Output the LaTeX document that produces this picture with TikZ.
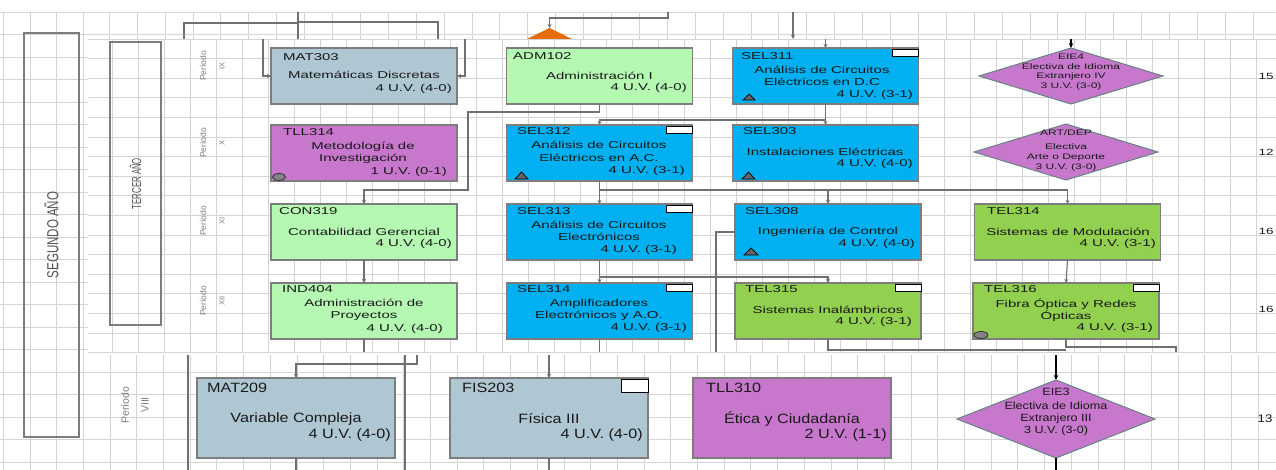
\documentclass[tikz,border=0pt]{standalone}
\usepackage{fontspec}
\setmainfont{Liberation Sans}
\newfontfamily\fa[FakeStretch=1.5]{Liberation Sans}
\newfontfamily\fb[FakeStretch=1.2]{Liberation Sans}
\newfontfamily\fc[FakeStretch=0.72]{Liberation Sans}
\newfontfamily\fd[FakeStretch=0.6]{Liberation Sans}
\usetikzlibrary{shapes.geometric,arrows.meta}
\definecolor{gridc}{RGB}{212,212,212}
\definecolor{bord}{RGB}{125,125,125}
\definecolor{txt}{RGB}{25,25,25}
\definecolor{lgrey}{RGB}{112,112,112}
\definecolor{corange}{RGB}{228,108,10}
\definecolor{diab}{RGB}{100,130,130}
\definecolor{mtri}{RGB}{100,100,100}
\definecolor{pert}{RGB}{125,125,125}
\definecolor{yeart}{RGB}{85,85,85}
\definecolor{cgrey}{RGB}{175,199,211}
\definecolor{cgreenl}{RGB}{180,248,178}
\definecolor{ccyan}{RGB}{0,176,240}
\definecolor{cpurple}{RGB}{199,120,204}
\definecolor{cgreen}{RGB}{146,208,80}
\begin{document}
\begin{tikzpicture}[x=1pt,y=-1pt,
  gridl/.style={draw=gridc, line width=0.9pt},
  cbox/.style={draw=bord, line width=1.3pt, inner sep=0pt, outer sep=0pt, minimum width=186pt, minimum height=56pt},
  bbox/.style={cbox, minimum width=198pt, minimum height=80pt},
  dia/.style={diamond, draw=diab, line width=1pt, fill=cpurple, inner sep=0pt, outer sep=0pt},
  code/.style={anchor=mid west, inner sep=0pt, text=txt, font=\fa\fontsize{10}{12}\selectfont},
  ttl/.style={align=center, inner sep=0pt, text=txt, font=\fa\fontsize{10}{12.5}\selectfont},
  cred/.style={anchor=mid east, inner sep=0pt, text=txt, font=\fa\fontsize{10}{12}\selectfont},
  codeb/.style={code, font=\fb\fontsize{13.5}{16}\selectfont},
  ttlb/.style={ttl, font=\fb\fontsize{13.5}{16}\selectfont},
  credb/.style={cred, font=\fb\fontsize{13.5}{16}\selectfont},
  dtxt/.style={align=center, inner sep=0pt, text=txt, font=\fa\fontsize{8}{9.4}\selectfont},
  dtxtb/.style={align=center, inner sep=0pt, text=txt, font=\fb\fontsize{10.5}{12}\selectfont},
  numt/.style={inner sep=0pt, text=txt, font=\fa\fontsize{9}{10}\selectfont},
  numtb/.style={inner sep=0pt, text=txt, font=\fb\fontsize{11}{12}\selectfont},
  pertxt/.style={inner sep=0pt, text=pert, rotate=90, font=\fontsize{8.5}{9}\selectfont},
  romtxt/.style={inner sep=0pt, text=pert, rotate=90, font=\fontsize{7.5}{8}\selectfont},
  pertxtb/.style={inner sep=0pt, text=pert, rotate=90, font=\fontsize{10.5}{12}\selectfont},
  yearbox/.style={draw=bord, line width=1.3pt, inner sep=0pt},
  yeartxt/.style={inner sep=0pt, text=yeart, rotate=90},
  line/.style={draw=lgrey, line width=1.1pt},
  conn/.style={line, -{Stealth[length=4pt,width=4pt]}},
  bline/.style={draw=black, line width=1.3pt},
  bconn/.style={bline, -{Stealth[length=5pt,width=4.5pt]}},
  mrect/.style={draw=black, fill=white, line width=1pt},
  mtrig/.style={draw=black, fill=mtri, line width=0.7pt},
  mcirc/.style={draw=black!80, fill=mtri!80, line width=0.8pt}
]
\useasboundingbox (0,0) rectangle (1276,470);
\fill[white] (0,0) rectangle (1276,470);

% ---------- grids
\begin{scope}
\clip (0,12) rectangle (88,470) (88,355) rectangle (1276,470);
\foreach \i in {0,...,20} \draw[gridl] (0,{12+22.5*\i}) -- (1276,{12+22.5*\i});
\foreach \i in {0,...,48} \draw[gridl] ({3.3+26.7*\i},0) -- ({3.3+26.7*\i},470);
\end{scope}
\begin{scope}
\clip (88,12) rectangle (1276,39);
\foreach \i in {0,1} \draw[gridl] (88,{12+22*\i}) -- (1276,{12+22*\i});
\foreach \i in {3,...,46} \draw[gridl] ({-2.3+27.9*\i},12) -- ({-2.3+27.9*\i},39);
\end{scope}
\begin{scope}
\clip (88,39) rectangle (1276,352);
\foreach \i in {0,...,16} \draw[gridl] (88,{39+19.6*\i}) -- (1276,{39+19.6*\i});
\foreach \i in {3,...,49} \draw[gridl] ({8+26*\i},39) -- ({8+26*\i},352);
\end{scope}

% ---------- year boxes and period labels
\node[yearbox, minimum width=55pt, minimum height=404pt] (seg) at (51.5,235) {};
\node[yeartxt, font=\fc\fontsize{16}{18}\selectfont] (segt) at (seg.center) {SEGUNDO AÑO};
\node[yearbox, minimum width=51pt, minimum height=283pt] (ter) at (135.5,183.5) {};
\node[yeartxt, font=\fd\fontsize{13}{14}\selectfont] (tert) at (ter.center) {TERCER AÑO};

\node[pertxt] (p9a) at (203,66) {Período};  \node[romtxt] (p9b) at (222,66) {IX};
\node[pertxt] (p10a) at (203,143) {Período}; \node[romtxt] (p10b) at (222,143) {X};
\node[pertxt] (p11a) at (203,221) {Período}; \node[romtxt] (p11b) at (222,221) {XI};
\node[pertxt] (p12a) at (203,301) {Período}; \node[romtxt] (p12b) at (222,301) {XII};
\node[pertxtb] (p8a) at (125,405) {Período}; \node[pertxtb] (p8b) at (145,405) {VIII};

% ---------- courses, row IX
\node[cbox, fill=cgrey] (mat303) at (364,76) {};
\node[code] (mat303c) at (283,58) {MAT303};
\node[ttl] (mat303t) at (364,75) {Matemáticas Discretas};
\node[cred] (mat303u) at (452,89) {4 U.V. (4-0)};

\node[cbox, fill=cgreenl] (adm102) at (599.5,76) {};
\node[code] (adm102c) at (513,57) {ADM102};
\node[ttl] (adm102t) at (599.5,76) {Administración I};
\node[cred] (adm102u) at (687,88) {4 U.V. (4-0)};

\node[cbox, fill=ccyan] (sel311) at (825.5,76) {};
\node[code] (sel311c) at (741,57) {SEL311};
\node[ttl] (sel311t) at (822,76) {Análisis de Circuitos\\Eléctricos en D.C};
\node[cred] (sel311u) at (913,95) {4 U.V. (3-1)};
\draw[mrect] (892.5,49.5) rectangle (918.5,56.5);
\draw[mtrig] (743,100) -- (749,94) -- (755,100) -- cycle;

\node[dia, minimum width=184pt, minimum height=56pt] (eie4) at (1071,76) {};
\node[dtxt] (eie4t) at (1071,72) {EIE4\\Electiva de Idioma\\Extranjero IV\\3 U.V. (3-0)};

% ---------- row X
\node[cbox, fill=cpurple] (tll314) at (364,153) {};
\node[code] (tll314c) at (283,133) {TLL314};
\node[ttl] (tll314t) at (363,153) {Metodología de\\Investigación};
\node[cred] (tll314u) at (447,172) {1 U.V. (0-1)};
\draw[mcirc] (279,177) ellipse (6.5 and 3.5);

\node[cbox, fill=ccyan] (sel312) at (599.5,153) {};
\node[code] (sel312c) at (517,132) {SEL312};
\node[ttl] (sel312t) at (599,151.5) {Análisis de Circuitos\\Eléctricos en A.C.};
\node[cred] (sel312u) at (685,171) {4 U.V. (3-1)};
\draw[mrect] (666.5,126.5) rectangle (692.5,133.5);
\draw[mtrig] (515,179) -- (521.5,172) -- (528,179) -- cycle;

\node[cbox, fill=ccyan] (sel303) at (825.5,153) {};
\node[code] (sel303c) at (743,132) {SEL303};
\node[ttl] (sel303t) at (825,152) {Instalaciones Eléctricas};
\node[cred] (sel303u) at (913,164) {4 U.V. (4-0)};
\draw[mtrig] (742,179) -- (748.5,172) -- (755,179) -- cycle;

\node[dia, minimum width=184pt, minimum height=56pt] (artdep) at (1066,152) {};
\node[dtxt] (artdep1) at (1066,133) {ART/DEP};
\node[dtxt, font=\fa\fontsize{8}{10}\selectfont] (artdep2) at (1066,157) {Electiva\\Arte o Deporte\\3 U.V. (3-0)};

% ---------- row XI
\node[cbox, fill=cgreenl] (con319) at (364,232) {};
\node[code] (con319c) at (279,212) {CON319};
\node[ttl] (con319t) at (364,232) {Contabilidad Gerencial};
\node[cred] (con319u) at (452,244) {4 U.V. (4-0)};

\node[cbox, fill=ccyan] (sel313) at (599.5,232) {};
\node[code] (sel313c) at (517,212) {SEL313};
\node[ttl] (sel313t) at (599,231) {Análisis de Circuitos\\Electrónicos};
\node[cred] (sel313u) at (677,250) {4 U.V. (3-1)};
\draw[mrect] (666.5,205.5) rectangle (692.5,212.5);

\node[cbox, fill=ccyan] (sel308) at (828,232) {};
\node[code] (sel308c) at (745,212) {SEL308};
\node[ttl] (sel308t) at (828,232) {Ingeniería de Control};
\node[cred] (sel308u) at (915,244) {4 U.V. (4-0)};
\draw[mtrig] (744,255) -- (751,248) -- (758,255) -- cycle;

\node[cbox, fill=cgreen] (tel314) at (1067.5,232) {};
\node[code] (tel314c) at (987,212) {TEL314};
\node[ttl] (tel314t) at (1068,232) {Sistemas de Modulación};
\node[cred] (tel314u) at (1156,244) {4 U.V. (3-1)};

% ---------- row XII
\node[cbox, fill=cgreenl] (ind404) at (364,311) {};
\node[code] (ind404c) at (282,290) {IND404};
\node[ttl] (ind404t) at (364,310) {Administración de\\Proyectos};
\node[cred] (ind404u) at (443,329) {4 U.V. (4-0)};

\node[cbox, fill=ccyan] (sel314) at (599.5,311) {};
\node[code] (sel314c) at (517,290) {SEL314};
\node[ttl] (sel314t) at (599,310) {Amplificadores\\Electrónicos y A.O.};
\node[cred] (sel314u) at (687,328) {4 U.V. (3-1)};
\draw[mrect] (666.5,284.5) rectangle (692.5,291.5);

\node[cbox, fill=cgreen] (tel315) at (828,311) {};
\node[code] (tel315c) at (745,290) {TEL315};
\node[ttl] (tel315t) at (828,310) {Sistemas Inalámbricos};
\node[cred] (tel315u) at (912,322) {4 U.V. (3-1)};
\draw[mrect] (895,284.5) rectangle (921,291.5);

\node[cbox, fill=cgreen] (tel316) at (1066,311) {};
\node[code] (tel316c) at (984,290) {TEL316};
\node[ttl] (tel316t) at (1066,310) {Fibra Óptica y Redes\\Ópticas};
\node[cred] (tel316u) at (1153,328) {4 U.V. (3-1)};
\draw[mrect] (1133,284.5) rectangle (1159,291.5);
\draw[mcirc] (981,335) ellipse (7 and 3.5);

% ---------- bottom row (period VIII)
\node[bbox, fill=cgrey] (mat209) at (296,418) {};
\node[codeb] (mat209c) at (207,390) {MAT209};
\node[ttlb] (mat209t) at (296,419) {Variable Compleja};
\node[credb] (mat209u) at (391,436) {4 U.V. (4-0)};

\node[bbox, fill=cgrey] (fis203) at (549,418) {};
\node[codeb] (fis203c) at (462,390) {FIS203};
\node[ttlb] (fis203t) at (549,419) {Física III};
\node[credb] (fis203u) at (643,436) {4 U.V. (4-0)};
\draw[mrect] (621,379) rectangle (648,392);

\node[bbox, fill=cpurple] (tll310) at (792,418) {};
\node[codeb] (tll310c) at (706,390) {TLL310};
\node[ttlb] (tll310t) at (792,419) {Ética y Ciudadanía};
\node[credb] (tll310u) at (887,436) {2 U.V. (1-1)};

\node[dia, minimum width=198pt, minimum height=78pt] (eie3) at (1056,419) {};
\node[dtxtb] (eie3a) at (1056,392) {EIE3};
\node[dtxtb] (eie3b) at (1056,419) {Electiva de Idioma\\Extranjero III\\3 U.V. (3-0)};

% ---------- credit totals
\node[numt] (n9) at (1266,76) {15};
\node[numt] (n10) at (1266,152) {12};
\node[numt] (n11) at (1266,231) {16};
\node[numt] (n12) at (1266,309) {16};
\node[numtb] (n8) at (1265,419) {13};

% ---------- connectors, top strip
\coordinate (a0) at (298,12); \coordinate (a1) at (298,39);
\coordinate (a2) at (184,39); \coordinate (a3) at (438,39);
\draw[line] (a0) -- (a1);
\draw[line] (a2) -- (184,23) -- (298,23);
\draw[line] (298,22) -- (438,22) -- (a3);
\coordinate (otri) at (549.5,28);
\fill[corange] (527,39) -- (otri) -- (572,39) -- cycle;
\coordinate (o0) at (668,12);
\draw[conn] (o0) -- (668,18) -- (549.5,18) -- (otri);
\coordinate (b0) at (793,12); \coordinate (b1) at (793,39);
\draw[conn] (b0) -- (b1);
\coordinate (e4t) at (1071,39);
\draw[bconn] (e4t) -- (eie4.north);

% ---------- connectors, upper piece
\coordinate (m1) at (263,39); \coordinate (m2) at (465,39);
\draw[conn] (m1) |- (mat303.west);
\draw[conn] (m2) |- (mat303.east);
\coordinate (s1) at (825.5,39);
\draw[conn] (s1) -- (sel311.north);
\draw[conn] (adm102.south) -- (599.5,112) -- (468,112) -- (468,190) -- (364,190) -- (con319.north);
\draw[conn] (sel311.south) -- (825.5,120) -| (sel312.north);
\draw[conn] (825.5,120) -- (sel303.north);
\draw[conn] (sel312.south) -- (sel313.north);
\draw[conn] (599.5,190) -| (sel308.north);
\draw[conn] (828,190) -| (tel314.north);
\draw[conn] (con319.south) -- (ind404.north);
\draw[conn] (sel313.south) -- (sel314.north);
\draw[conn] (599.5,277) -| (tel315.north);
\coordinate (q1) at (716,352);
\draw[line] (sel308.west) -| (q1);
\draw[conn] (tel314.south) -- (tel316.north);
\coordinate (r1) at (364,352); \coordinate (r2) at (599.5,352);
\coordinate (r3) at (1066,350); \coordinate (r4) at (1176,352);
\draw[line] (ind404.south) -- (r1);
\draw[line] (sel314.south) -- (r2);
\draw[line] (tel315.south) |- (r3);
\draw[line] (tel316.south) |- (1176,347) -- (r4);

% ---------- connectors, lower piece
\coordinate (u1) at (188,355); \coordinate (u2) at (188,470);
\coordinate (u3) at (405,355); \coordinate (u3b) at (405,470);
\draw[line] (u1) -- (u2);
\draw[line] (u3) -- (u3b);
\coordinate (u4) at (417,355);
\draw[conn] (u4) -- (417,364) -- (296,364) -- (mat209.north);
\coordinate (u5) at (296,470);
\draw[line] (mat209.south) -- (u5);
\coordinate (u6) at (549,355); \coordinate (u7) at (549,470);
\draw[conn] (u6) -- (fis203.north);
\draw[line] (fis203.south) -- (u7);
\coordinate (u8) at (1056,355); \coordinate (u9) at (1056,470);
\draw[bconn] (u8) -- (eie3.north);
\draw[bline] (eie3.south) -- (u9);
\end{tikzpicture}
\end{document}
